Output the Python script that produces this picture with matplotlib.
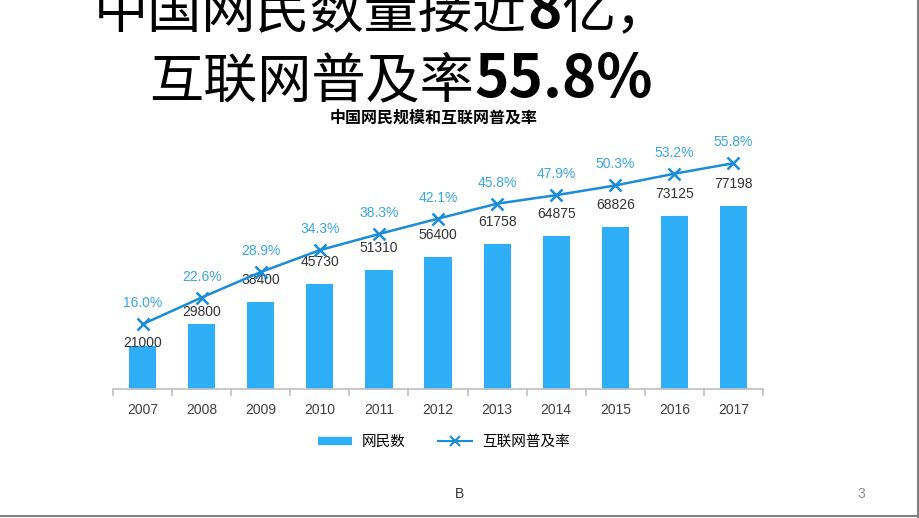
import numpy as np
import matplotlib
matplotlib.use('Agg')
import matplotlib.pyplot as plt
from matplotlib.lines import Line2D


years = ['2007', '2008', '2009', '2010', '2011', '2012', '2013', '2014', '2015', '2016', '2017']
netizens = [21000, 29800, 38400, 45730, 51310, 56400, 61758, 64875, 68826, 73125, 77198]
rate = [16.0, 22.6, 28.9, 34.3, 38.3, 42.1, 45.8, 47.9, 50.3, 53.2, 55.8]

title1 = [('中国网民数量接近', 39, 'normal'), ('8', 42, 'bold'), ('亿，', 39, 'normal')]
title2 = [('互联网普及率', 39, 'normal'), ('55.8%', 42, 'bold')]
subtitle = '中国网民规模和互联网普及率'
legend_labels = ['网民数', '互联网普及率']

CJK = ['Noto Sans CJK SC', 'DejaVu Sans']
LAT = ['Liberation Sans', 'DejaVu Sans']
bar_color = '#2FAEF8'
line_color = '#1A8CD8'
pct_color = '#3AA6E8'

W, H = 920, 518
fig = plt.figure(figsize=(W / 100, H / 100), dpi=100)


def box(x0, y0, x1, y1):
    # pixel box (top-left origin) -> figure fraction
    return [x0 / W, 1 - y1 / H, (x1 - x0) / W, (y1 - y0) / H]


ax = fig.add_axes(box(113, 130, 763, 389))
x = np.arange(len(years))
ax.bar(x, netizens, width=0.46, color=bar_color, zorder=2)
ax.set_xlim(-0.5, len(years) - 0.5)
ax.set_ylim(3600, 107575)

for s in ['top', 'left', 'right']:
    ax.spines[s].set_visible(False)
ax.spines['bottom'].set_color('#BFBFBF')
ax.spines['bottom'].set_linewidth(1.2)
ax.set_yticks([])
ax.set_xticks(x)
ax.set_xticklabels(years, fontsize=10, color='#404040', family=LAT)
ax.tick_params(axis='x', which='major', length=0, pad=10)
ax.set_xticks(np.arange(-0.5, len(years), 1), minor=True)
ax.tick_params(axis='x', which='minor', length=5, width=1.2, color='#BFBFBF')

ax2 = ax.twinx()
ax2.set_ylim(0, 64)
ax2.axis('off')
ax2.plot(x, rate, color=line_color, lw=1.8, marker='x', ms=8, mew=1.8, zorder=3)

# value labels
offsets = [3, 12] + [22] * (len(years) - 2)
for i, v in enumerate(netizens):
    ax.annotate(str(v), (i, v), xytext=(0, offsets[i]), textcoords='offset pixels',
                ha='center', va='center', fontsize=10, color='#333333', family=LAT, zorder=4)
for i, r in enumerate(rate):
    ax2.annotate(f'{r:.1f}%', (i, r), xytext=(0, 21), textcoords='offset pixels',
                 ha='center', va='center', fontsize=10, color=pct_color, family=LAT)

# legend
handles = [Line2D([], [], color=bar_color, lw=6, solid_capstyle='butt'),
           Line2D([], [], color=line_color, lw=1.5, marker='x', ms=7, mew=1.5)]
fig.legend(handles, legend_labels, loc='center', bbox_to_anchor=(444 / W, 1 - 442 / H),
           ncol=2, frameon=False, handlelength=2.3, handletextpad=0.7, columnspacing=2.2,
           prop={'family': CJK, 'size': 10.5})


def rich_line(parts, cx, base):
    texts = [fig.text(0, 1 - base / H, s, fontsize=sz, fontweight=w, family=CJK,
                      ha='left', va='baseline', color='black') for s, sz, w in parts]
    fig.canvas.draw()
    widths = [t.get_window_extent().width for t in texts]
    x0 = cx - sum(widths) / 2
    for t, w in zip(texts, widths):
        t.set_x(x0 / W)
        x0 += w


rich_line(title1, 382, 28)
rich_line(title2, 401, 97)
fig.text(434 / W, 1 - 118 / H, subtitle, fontsize=11.5, fontweight='bold', family=CJK,
         ha='center', va='center')

fig.text(460 / W, 1 - 494 / H, 'B', fontsize=10, color='#333333', family=LAT, ha='center', va='center')
fig.text(861 / W, 1 - 494 / H, '3', fontsize=10, color='#8C8C8C', family=LAT, ha='center', va='center')

# slide border
fig.add_artist(Line2D([918 / W, 918 / W], [0, 1], color='#7F7F7F', lw=1.5, transform=fig.transFigure))
fig.add_artist(Line2D([0, 1], [1 - 516 / H, 1 - 516 / H], color='#7F7F7F', lw=1.5, transform=fig.transFigure))

fig.savefig('out.png', dpi=100)
